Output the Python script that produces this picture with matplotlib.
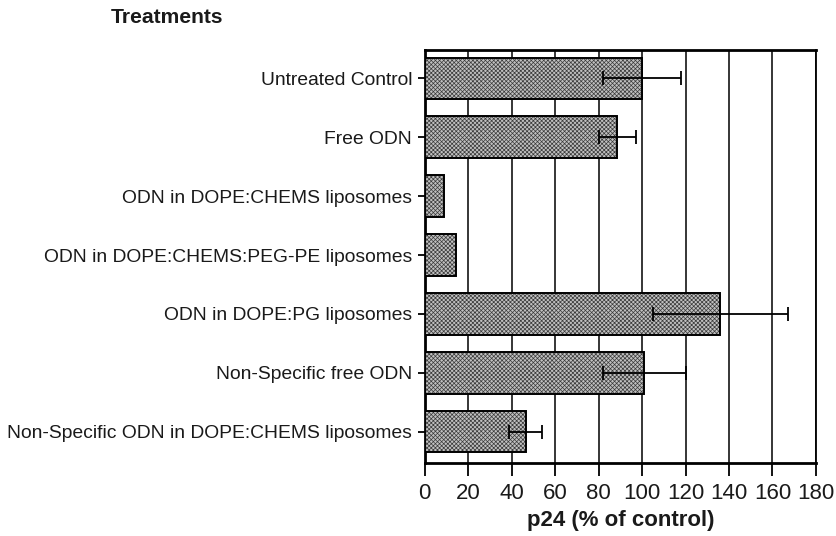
import numpy as np
import matplotlib.pyplot as plt

plt.rcParams['font.family'] = ['Liberation Sans', 'DejaVu Sans']
plt.rcParams['hatch.linewidth'] = 0.5

# Data
treatments = ["Untreated Control", "Free ODN", "ODN in DOPE:CHEMS liposomes",
              "ODN in DOPE:CHEMS:PEG-PE liposomes", "ODN in DOPE:PG liposomes",
              "Non-Specific free ODN", "Non-Specific ODN in DOPE:CHEMS liposomes"]
p24 = [100, 88.5, 9, 14.5, 136, 101, 46.5]
err = [18, 8.5, 0, 0, 31, 19, 7.5]
xticks = [0, 20, 40, 60, 80, 100, 120, 140, 160, 180]

fig = plt.figure(figsize=(8.36, 5.36), dpi=100)
ax = fig.add_axes([0.508, 0.136, 0.468, 0.771])

y = np.arange(len(treatments))
# fill with fine hatch, then outline on top
ax.barh(y, p24, height=0.7, color='#c0c0c0', edgecolor='#3a3a3a', hatch='xxxxxxxx',
        linewidth=0, zorder=3)
ax.barh(y, p24, height=0.7, color='none', edgecolor='black', linewidth=1.4, zorder=3)
has_err = [i for i in range(len(err)) if err[i] > 0]
ax.errorbar([p24[i] for i in has_err], [y[i] for i in has_err],
            xerr=[err[i] for i in has_err], fmt='none', ecolor='black',
            elinewidth=1.3, capsize=5, capthick=1.3, zorder=4)

ax.set_xlim(0, 180)
ax.set_ylim(6.53, -0.48)
ax.set_xticks(xticks)
ax.set_xticklabels([str(t) for t in xticks], fontsize=16, color='#1a1a1a')
ax.set_yticks(y)
ax.set_yticklabels(treatments, fontsize=13.9, color='#1a1a1a')
ax.tick_params(axis='x', direction='out', length=9, width=1.3, pad=5)
ax.tick_params(axis='y', direction='out', length=5, width=1.3, pad=4)
ax.xaxis.grid(True, color='black', linewidth=1.1, zorder=0)
ax.set_axisbelow(True)
for s in ax.spines.values():
    s.set_linewidth(2)
ax.spines['right'].set_linewidth(1.3)

ax.set_xlabel("p24 (% of control)", fontsize=16, fontweight='bold', labelpad=5,
              color='#1a1a1a')
fig.text(0.132, 0.967, "Treatments", fontsize=15.2, fontweight='bold', va='center',
         color='#1a1a1a')

fig.savefig("out.png", dpi=100)
